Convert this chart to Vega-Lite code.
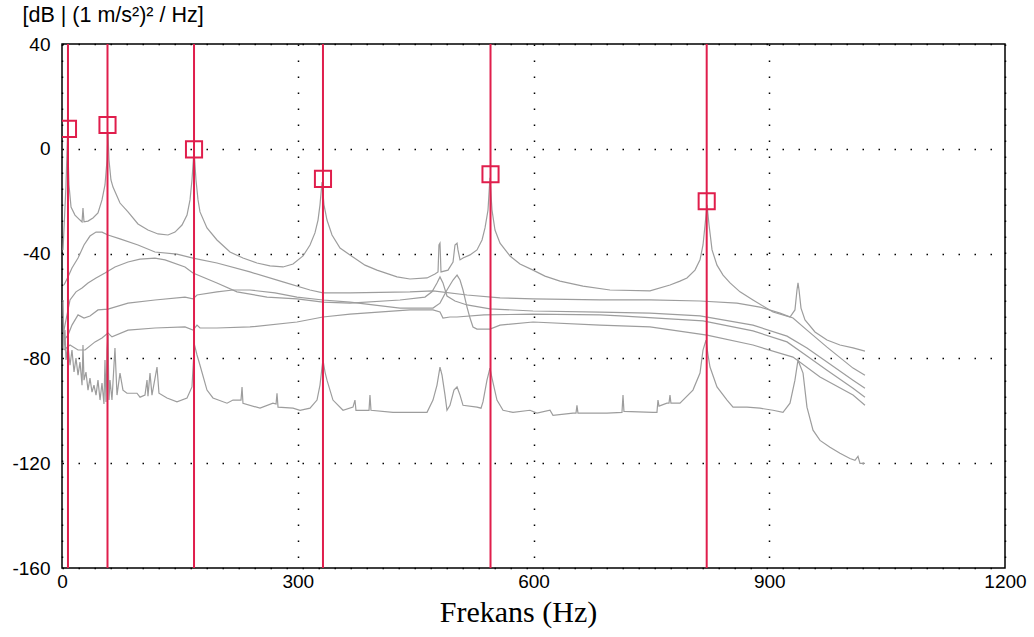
{
 "$schema": "https://vega.github.io/schema/vega-lite/v6.json",
 "width": 943,
 "height": 524,
 "autosize": {"type": "none"},
 "padding": {"left": 62, "top": 44, "right": 29, "bottom": 69},
 "background": "white",
 "config": {
  "view": {"stroke": "#000", "strokeWidth": 1.5},
  "axis": {
   "labelFont": "Liberation Sans", "labelFontSize": 19, "labelColor": "#000",
   "ticks": false, "domain": false, "labelFlush": false,
   "grid": true, "gridColor": "#000", "gridDash": [1.5, 14.5], "gridWidth": 1.5, "gridOpacity": 1
  }
 },
 "datasets": {
  "spectra": [
   {"s":"A","f":1.3,"db":-38.6},{"s":"A","f":5.1,"db":-13.8},{"s":"A","f":7.0,"db":4.9},{"s":"A","f":8.9,"db":-13.8},{"s":"A","f":11.5,"db":-22.2},{"s":"A","f":16.5,"db":-25.3},{"s":"A","f":22.9,"db":-27.2},{"s":"A","f":25.5,"db":-27.9},{"s":"A","f":26.7,"db":-22.6},{"s":"A","f":28.0,"db":-27.9},{"s":"A","f":33.1,"db":-27.6},{"s":"A","f":39.4,"db":-26.4},{"s":"A","f":45.8,"db":-24.5},{"s":"A","f":50.9,"db":-19.5},{"s":"A","f":54.7,"db":-13.8},{"s":"A","f":57.3,"db":-4.3},{"s":"A","f":58.5,"db":6.0},{"s":"A","f":59.8,"db":-4.3},{"s":"A","f":62.3,"db":-11.9},{"s":"A","f":64.9,"db":-14.6},{"s":"A","f":73.8,"db":-20.7},{"s":"A","f":84.0,"db":-24.1},{"s":"A","f":96.7,"db":-28.7},{"s":"A","f":109.4,"db":-31.0},{"s":"A","f":122.2,"db":-32.5},{"s":"A","f":134.9,"db":-32.9},{"s":"A","f":143.8,"db":-31.8},{"s":"A","f":152.7,"db":-29.1},{"s":"A","f":159.1,"db":-25.3},{"s":"A","f":162.9,"db":-19.5},{"s":"A","f":165.4,"db":-11.9},{"s":"A","f":168.0,"db":-0.5},{"s":"A","f":170.5,"db":-11.9},{"s":"A","f":173.1,"db":-19.5},{"s":"A","f":175.6,"db":-24.1},{"s":"A","f":184.5,"db":-30.2},{"s":"A","f":197.2,"db":-34.8},{"s":"A","f":213.8,"db":-39.4},{"s":"A","f":230.3,"db":-41.7},{"s":"A","f":248.1,"db":-43.6},{"s":"A","f":264.7,"db":-44.7},{"s":"A","f":281.2,"db":-45.1},{"s":"A","f":294.0,"db":-44.0},{"s":"A","f":306.7,"db":-40.9},{"s":"A","f":315.6,"db":-36.7},{"s":"A","f":321.9,"db":-32.1},{"s":"A","f":325.8,"db":-27.2},{"s":"A","f":328.3,"db":-21.4},{"s":"A","f":330.9,"db":-12.7},{"s":"A","f":333.4,"db":-21.4},{"s":"A","f":337.2,"db":-27.2},{"s":"A","f":343.6,"db":-32.9},{"s":"A","f":353.8,"db":-37.9},{"s":"A","f":366.5,"db":-40.5},{"s":"A","f":385.6,"db":-44.4},{"s":"A","f":400.8,"db":-46.3},{"s":"A","f":426.3,"db":-48.9},{"s":"A","f":442.8,"db":-49.7},{"s":"A","f":464.5,"db":-49.3},{"s":"A","f":474.6,"db":-47.8},{"s":"A","f":478.5,"db":-47.0},{"s":"A","f":479.7,"db":-36.7},{"s":"A","f":481.0,"db":-36.0},{"s":"A","f":482.3,"db":-47.0},{"s":"A","f":491.2,"db":-46.3},{"s":"A","f":497.6,"db":-43.2},{"s":"A","f":500.1,"db":-36.7},{"s":"A","f":502.7,"db":-36.0},{"s":"A","f":503.9,"db":-38.6},{"s":"A","f":506.5,"db":-42.4},{"s":"A","f":510.3,"db":-41.7},{"s":"A","f":519.2,"db":-40.5},{"s":"A","f":528.1,"db":-38.6},{"s":"A","f":534.5,"db":-34.8},{"s":"A","f":538.3,"db":-30.2},{"s":"A","f":542.1,"db":-23.4},{"s":"A","f":544.6,"db":-11.1},{"s":"A","f":547.2,"db":-23.4},{"s":"A","f":551.0,"db":-31.0},{"s":"A","f":557.4,"db":-36.0},{"s":"A","f":570.1,"db":-40.9},{"s":"A","f":582.8,"db":-44.0},{"s":"A","f":599.4,"db":-46.3},{"s":"A","f":614.6,"db":-48.6},{"s":"A","f":633.7,"db":-50.5},{"s":"A","f":663.0,"db":-52.4},{"s":"A","f":697.3,"db":-53.9},{"s":"A","f":748.2,"db":-54.2},{"s":"A","f":773.7,"db":-52.0},{"s":"A","f":786.4,"db":-50.5},{"s":"A","f":795.3,"db":-49.3},{"s":"A","f":805.5,"db":-46.3},{"s":"A","f":811.9,"db":-42.4},{"s":"A","f":815.7,"db":-36.7},{"s":"A","f":818.3,"db":-29.1},{"s":"A","f":820.8,"db":-21.4},{"s":"A","f":823.4,"db":-29.1},{"s":"A","f":827.2,"db":-38.6},{"s":"A","f":833.5,"db":-44.4},{"s":"A","f":841.2,"db":-48.2},{"s":"A","f":850.1,"db":-51.2},{"s":"A","f":862.8,"db":-54.6},{"s":"A","f":879.3,"db":-57.7},{"s":"A","f":904.8,"db":-62.3},{"s":"A","f":926.4,"db":-64.2},{"s":"A","f":932.7,"db":-61.5},{"s":"A","f":935.3,"db":-53.9},{"s":"A","f":936.6,"db":-51.2},{"s":"A","f":937.9,"db":-53.9},{"s":"A","f":940.4,"db":-60.8},{"s":"A","f":945.5,"db":-65.3},{"s":"A","f":958.2,"db":-69.9},{"s":"A","f":973.5,"db":-73.0},{"s":"A","f":990.0,"db":-74.9},{"s":"A","f":1006.6,"db":-76.0},{"s":"A","f":1021.8,"db":-77.2},
   {"s":"B","f":2.5,"db":-52.0},{"s":"B","f":7.6,"db":-48.9},{"s":"B","f":12.7,"db":-45.5},{"s":"B","f":20.4,"db":-41.7},{"s":"B","f":28.0,"db":-36.7},{"s":"B","f":35.6,"db":-33.3},{"s":"B","f":43.3,"db":-31.8},{"s":"B","f":50.9,"db":-31.8},{"s":"B","f":58.5,"db":-32.9},{"s":"B","f":73.8,"db":-34.4},{"s":"B","f":96.7,"db":-36.7},{"s":"B","f":118.3,"db":-39.4},{"s":"B","f":146.3,"db":-40.2},{"s":"B","f":166.7,"db":-41.7},{"s":"B","f":197.2,"db":-43.6},{"s":"B","f":239.2,"db":-47.0},{"s":"B","f":281.2,"db":-50.8},{"s":"B","f":315.6,"db":-53.9},{"s":"B","f":332.1,"db":-55.0},{"s":"B","f":366.5,"db":-55.0},{"s":"B","f":442.8,"db":-54.6},{"s":"B","f":472.1,"db":-54.2},{"s":"B","f":515.4,"db":-55.8},{"s":"B","f":557.4,"db":-56.9},{"s":"B","f":599.4,"db":-57.3},{"s":"B","f":684.6,"db":-57.7},{"s":"B","f":748.2,"db":-57.7},{"s":"B","f":811.9,"db":-58.1},{"s":"B","f":858.9,"db":-58.9},{"s":"B","f":888.2,"db":-60.4},{"s":"B","f":913.7,"db":-62.7},{"s":"B","f":930.2,"db":-64.6},{"s":"B","f":948.0,"db":-69.2},{"s":"B","f":973.5,"db":-75.7},{"s":"B","f":1006.6,"db":-83.7},{"s":"B","f":1021.8,"db":-86.4},
   {"s":"C","f":2.5,"db":-69.2},{"s":"C","f":10.2,"db":-57.7},{"s":"C","f":17.8,"db":-54.6},{"s":"C","f":25.5,"db":-53.1},{"s":"C","f":33.1,"db":-51.2},{"s":"C","f":43.3,"db":-49.3},{"s":"C","f":54.7,"db":-47.4},{"s":"C","f":67.4,"db":-45.1},{"s":"C","f":84.0,"db":-43.2},{"s":"C","f":99.3,"db":-42.1},{"s":"C","f":118.3,"db":-41.7},{"s":"C","f":131.1,"db":-42.4},{"s":"C","f":156.5,"db":-45.1},{"s":"C","f":166.7,"db":-47.4},{"s":"C","f":197.2,"db":-51.2},{"s":"C","f":222.7,"db":-54.6},{"s":"C","f":260.9,"db":-56.6},{"s":"C","f":299.0,"db":-57.3},{"s":"C","f":332.1,"db":-58.5},{"s":"C","f":366.5,"db":-58.9},{"s":"C","f":430.1,"db":-57.7},{"s":"C","f":461.9,"db":-56.6},{"s":"C","f":470.8,"db":-54.6},{"s":"C","f":477.2,"db":-51.2},{"s":"C","f":481.0,"db":-48.9},{"s":"C","f":484.8,"db":-51.2},{"s":"C","f":489.9,"db":-56.2},{"s":"C","f":500.1,"db":-58.1},{"s":"C","f":515.4,"db":-59.6},{"s":"C","f":544.6,"db":-61.1},{"s":"C","f":599.4,"db":-61.9},{"s":"C","f":684.6,"db":-62.3},{"s":"C","f":748.2,"db":-62.7},{"s":"C","f":811.9,"db":-63.8},{"s":"C","f":879.3,"db":-67.3},{"s":"C","f":922.6,"db":-71.5},{"s":"C","f":948.0,"db":-76.0},{"s":"C","f":973.5,"db":-81.4},{"s":"C","f":1006.6,"db":-88.3},{"s":"C","f":1021.8,"db":-91.4},
   {"s":"D","f":2.5,"db":-73.0},{"s":"D","f":7.6,"db":-71.1},{"s":"D","f":12.7,"db":-67.3},{"s":"D","f":20.4,"db":-63.4},{"s":"D","f":28.0,"db":-64.6},{"s":"D","f":35.6,"db":-63.8},{"s":"D","f":45.8,"db":-61.5},{"s":"D","f":58.5,"db":-61.2},{"s":"D","f":84.0,"db":-58.9},{"s":"D","f":118.3,"db":-57.7},{"s":"D","f":156.5,"db":-56.6},{"s":"D","f":166.7,"db":-57.3},{"s":"D","f":171.8,"db":-55.8},{"s":"D","f":197.2,"db":-54.6},{"s":"D","f":217.6,"db":-53.9},{"s":"D","f":239.2,"db":-53.9},{"s":"D","f":271.0,"db":-55.0},{"s":"D","f":299.0,"db":-56.6},{"s":"D","f":332.1,"db":-57.7},{"s":"D","f":366.5,"db":-58.5},{"s":"D","f":430.1,"db":-60.8},{"s":"D","f":472.1,"db":-60.8},{"s":"D","f":481.0,"db":-58.9},{"s":"D","f":489.9,"db":-53.9},{"s":"D","f":497.6,"db":-50.1},{"s":"D","f":502.7,"db":-48.2},{"s":"D","f":506.5,"db":-50.1},{"s":"D","f":510.3,"db":-53.9},{"s":"D","f":515.4,"db":-60.4},{"s":"D","f":519.2,"db":-64.6},{"s":"D","f":523.0,"db":-68.0},{"s":"D","f":528.1,"db":-68.8},{"s":"D","f":544.6,"db":-68.8},{"s":"D","f":557.4,"db":-67.3},{"s":"D","f":599.4,"db":-66.1},{"s":"D","f":684.6,"db":-67.3},{"s":"D","f":748.2,"db":-68.0},{"s":"D","f":820.8,"db":-71.1},{"s":"D","f":879.3,"db":-74.9},{"s":"D","f":930.2,"db":-79.5},{"s":"D","f":964.6,"db":-87.1},{"s":"D","f":1006.6,"db":-94.0},{"s":"D","f":1021.8,"db":-97.9},
   {"s":"E","f":2.5,"db":-76.8},{"s":"E","f":10.2,"db":-74.9},{"s":"E","f":20.4,"db":-76.8},{"s":"E","f":29.3,"db":-76.8},{"s":"E","f":42.0,"db":-73.7},{"s":"E","f":50.9,"db":-72.2},{"s":"E","f":58.5,"db":-70.3},{"s":"E","f":63.6,"db":-71.8},{"s":"E","f":84.0,"db":-69.2},{"s":"E","f":118.3,"db":-68.4},{"s":"E","f":156.5,"db":-68.0},{"s":"E","f":166.7,"db":-69.2},{"s":"E","f":171.8,"db":-67.3},{"s":"E","f":175.6,"db":-68.4},{"s":"E","f":197.2,"db":-68.4},{"s":"E","f":239.2,"db":-68.0},{"s":"E","f":299.0,"db":-66.1},{"s":"E","f":332.1,"db":-64.2},{"s":"E","f":366.5,"db":-63.1},{"s":"E","f":442.8,"db":-61.5},{"s":"E","f":472.1,"db":-61.5},{"s":"E","f":481.0,"db":-62.3},{"s":"E","f":484.8,"db":-64.6},{"s":"E","f":493.7,"db":-64.2},{"s":"E","f":502.7,"db":-64.2},{"s":"E","f":537.0,"db":-63.4},{"s":"E","f":599.4,"db":-63.1},{"s":"E","f":684.6,"db":-63.4},{"s":"E","f":710.1,"db":-63.8},{"s":"E","f":815.7,"db":-65.7},{"s":"E","f":879.3,"db":-69.5},{"s":"E","f":922.6,"db":-73.7},{"s":"E","f":948.0,"db":-79.1},{"s":"E","f":973.5,"db":-84.5},{"s":"E","f":1006.6,"db":-91.4},{"s":"E","f":1021.8,"db":-94.8},
   {"s":"F","f":1.3,"db":-57.7},{"s":"F","f":2.5,"db":-76.8},{"s":"F","f":3.8,"db":-69.2},{"s":"F","f":5.1,"db":-80.6},{"s":"F","f":7.6,"db":-74.9},{"s":"F","f":10.2,"db":-82.6},{"s":"F","f":12.7,"db":-76.8},{"s":"F","f":15.3,"db":-85.2},{"s":"F","f":17.8,"db":-79.9},{"s":"F","f":20.4,"db":-86.4},{"s":"F","f":22.9,"db":-81.4},{"s":"F","f":25.5,"db":-90.2},{"s":"F","f":26.7,"db":-74.9},{"s":"F","f":28.0,"db":-88.3},{"s":"F","f":30.5,"db":-85.2},{"s":"F","f":33.1,"db":-92.1},{"s":"F","f":35.6,"db":-87.5},{"s":"F","f":38.2,"db":-92.9},{"s":"F","f":40.7,"db":-90.2},{"s":"F","f":43.3,"db":-94.0},{"s":"F","f":45.8,"db":-88.3},{"s":"F","f":48.4,"db":-95.9},{"s":"F","f":50.9,"db":-89.4},{"s":"F","f":53.4,"db":-97.4},{"s":"F","f":54.7,"db":-80.6},{"s":"F","f":56.0,"db":-96.6},{"s":"F","f":57.3,"db":-76.8},{"s":"F","f":58.5,"db":-71.1},{"s":"F","f":59.8,"db":-95.9},{"s":"F","f":61.1,"db":-88.3},{"s":"F","f":63.6,"db":-95.9},{"s":"F","f":67.4,"db":-76.0},{"s":"F","f":70.0,"db":-94.0},{"s":"F","f":73.8,"db":-85.6},{"s":"F","f":77.6,"db":-92.1},{"s":"F","f":82.7,"db":-93.3},{"s":"F","f":95.4,"db":-93.3},{"s":"F","f":99.3,"db":-94.8},{"s":"F","f":105.6,"db":-94.0},{"s":"F","f":108.2,"db":-88.3},{"s":"F","f":109.4,"db":-94.4},{"s":"F","f":112.0,"db":-85.6},{"s":"F","f":114.5,"db":-94.0},{"s":"F","f":120.9,"db":-83.3},{"s":"F","f":123.4,"db":-93.3},{"s":"F","f":133.6,"db":-95.1},{"s":"F","f":146.3,"db":-96.6},{"s":"F","f":159.1,"db":-95.1},{"s":"F","f":165.4,"db":-90.9},{"s":"F","f":168.0,"db":-76.8},{"s":"F","f":169.2,"db":-75.6},{"s":"F","f":171.8,"db":-78.7},{"s":"F","f":175.6,"db":-82.6},{"s":"F","f":184.5,"db":-92.1},{"s":"F","f":192.1,"db":-95.1},{"s":"F","f":210.0,"db":-97.1},{"s":"F","f":217.6,"db":-95.9},{"s":"F","f":227.8,"db":-95.9},{"s":"F","f":229.1,"db":-90.9},{"s":"F","f":230.3,"db":-97.1},{"s":"F","f":252.0,"db":-99.0},{"s":"F","f":268.5,"db":-97.1},{"s":"F","f":272.4,"db":-97.4},{"s":"F","f":273.6,"db":-93.3},{"s":"F","f":274.9,"db":-98.6},{"s":"F","f":294.0,"db":-99.0},{"s":"F","f":302.9,"db":-99.8},{"s":"F","f":315.6,"db":-99.0},{"s":"F","f":324.5,"db":-95.9},{"s":"F","f":328.3,"db":-90.2},{"s":"F","f":330.9,"db":-83.3},{"s":"F","f":332.1,"db":-80.6},{"s":"F","f":334.7,"db":-85.2},{"s":"F","f":337.2,"db":-88.3},{"s":"F","f":344.8,"db":-95.9},{"s":"F","f":357.6,"db":-99.8},{"s":"F","f":370.3,"db":-98.6},{"s":"F","f":372.8,"db":-95.9},{"s":"F","f":374.1,"db":-99.8},{"s":"F","f":390.7,"db":-99.8},{"s":"F","f":391.9,"db":-94.0},{"s":"F","f":393.2,"db":-99.8},{"s":"F","f":421.2,"db":-100.6},{"s":"F","f":464.5,"db":-100.6},{"s":"F","f":472.1,"db":-95.9},{"s":"F","f":477.2,"db":-90.2},{"s":"F","f":481.0,"db":-83.3},{"s":"F","f":483.6,"db":-86.4},{"s":"F","f":487.4,"db":-94.0},{"s":"F","f":489.9,"db":-99.8},{"s":"F","f":493.7,"db":-97.9},{"s":"F","f":498.8,"db":-92.1},{"s":"F","f":502.7,"db":-90.9},{"s":"F","f":506.5,"db":-94.0},{"s":"F","f":510.3,"db":-97.9},{"s":"F","f":528.1,"db":-98.6},{"s":"F","f":533.2,"db":-99.0},{"s":"F","f":535.7,"db":-96.6},{"s":"F","f":540.8,"db":-88.3},{"s":"F","f":544.6,"db":-83.7},{"s":"F","f":547.2,"db":-87.5},{"s":"F","f":553.5,"db":-95.9},{"s":"F","f":561.2,"db":-99.8},{"s":"F","f":573.9,"db":-100.6},{"s":"F","f":595.5,"db":-99.8},{"s":"F","f":604.4,"db":-100.9},{"s":"F","f":621.0,"db":-99.8},{"s":"F","f":624.8,"db":-101.7},{"s":"F","f":650.3,"db":-100.9},{"s":"F","f":654.1,"db":-100.9},{"s":"F","f":655.3,"db":-97.9},{"s":"F","f":656.6,"db":-100.9},{"s":"F","f":693.5,"db":-100.9},{"s":"F","f":712.6,"db":-100.6},{"s":"F","f":713.9,"db":-94.0},{"s":"F","f":715.1,"db":-100.2},{"s":"F","f":752.1,"db":-100.6},{"s":"F","f":757.1,"db":-100.6},{"s":"F","f":758.4,"db":-95.9},{"s":"F","f":759.7,"db":-98.2},{"s":"F","f":769.8,"db":-97.1},{"s":"F","f":772.4,"db":-97.1},{"s":"F","f":773.7,"db":-94.0},{"s":"F","f":774.9,"db":-97.1},{"s":"F","f":786.4,"db":-97.1},{"s":"F","f":802.9,"db":-92.1},{"s":"F","f":811.9,"db":-85.6},{"s":"F","f":815.7,"db":-76.8},{"s":"F","f":819.5,"db":-73.0},{"s":"F","f":822.1,"db":-78.7},{"s":"F","f":824.6,"db":-83.3},{"s":"F","f":833.5,"db":-90.9},{"s":"F","f":846.3,"db":-95.9},{"s":"F","f":853.9,"db":-98.6},{"s":"F","f":871.7,"db":-98.6},{"s":"F","f":888.2,"db":-99.0},{"s":"F","f":904.8,"db":-99.8},{"s":"F","f":917.5,"db":-100.6},{"s":"F","f":926.4,"db":-97.1},{"s":"F","f":932.7,"db":-88.3},{"s":"F","f":936.6,"db":-80.6},{"s":"F","f":939.1,"db":-82.6},{"s":"F","f":943.0,"db":-85.6},{"s":"F","f":948.0,"db":-98.6},{"s":"F","f":955.7,"db":-107.4},{"s":"F","f":964.6,"db":-111.3},{"s":"F","f":977.3,"db":-113.9},{"s":"F","f":990.0,"db":-116.2},{"s":"F","f":1002.7,"db":-118.2},{"s":"F","f":1009.1,"db":-118.9},{"s":"F","f":1012.9,"db":-117.4},{"s":"F","f":1015.5,"db":-120.1},{"s":"F","f":1021.8,"db":-120.1}
  ],
  "peaks": [
   {"f":7.6,"db":7.6},{"f":57.9,"db":9.1},{"f":168.0,"db":-0.2},{"f":332.1,"db":-11.5},{"f":545.3,"db":-9.7},{"f":820.4,"db":-20.0}
  ]
 },
 "layer": [
  {
   "data": {"name": "spectra"},
   "mark": {"type": "line", "color": "#9d9d9d", "strokeWidth": 1.2, "clip": true},
   "encoding": {
    "x": {"field": "f", "type": "quantitative",
     "scale": {"domain": [0, 1200], "nice": false, "zero": false},
     "axis": {"values": [0, 300, 600, 900, 1200], "labelPadding": 4, "labelExpr": "'' + datum.value",
      "title": "Frekans (Hz)", "titleFont": "Liberation Serif", "titleFontSize": 30, "titleFontWeight": "normal", "titleColor": "#000",
      "titleX": 456, "titleY": 53, "titleBaseline": "alphabetic", "titleAlign": "center", "titleAnchor": null}},
    "y": {"field": "db", "type": "quantitative",
     "scale": {"domain": [-160, 40], "nice": false, "zero": false},
     "axis": {"values": [-160, -120, -80, -40, 0, 40], "labelPadding": 12, "labelExpr": "'' + datum.value",
      "title": "[dB | (1 m/s²)² / Hz]", "titleFont": "Liberation Sans", "titleFontSize": 21.5, "titleFontWeight": "normal", "titleColor": "#000",
      "titleAngle": 0, "titleX": -40, "titleY": -40, "titleAlign": "left", "titleBaseline": "top", "titleAnchor": null}},
    "detail": {"field": "s", "type": "nominal"}
   }
  },
  {
   "data": {"name": "peaks"},
   "mark": {"type": "rule", "color": "#e01e4c", "strokeWidth": 2},
   "encoding": {"x": {"field": "f", "type": "quantitative"}}
  },
  {
   "data": {"name": "peaks"},
   "mark": {"type": "point", "shape": "square", "filled": false, "color": "#e01e4c", "strokeWidth": 2, "size": 260, "opacity": 1, "clip": true},
   "encoding": {
    "x": {"field": "f", "type": "quantitative"},
    "y": {"field": "db", "type": "quantitative"}
   }
  }
 ]
}
